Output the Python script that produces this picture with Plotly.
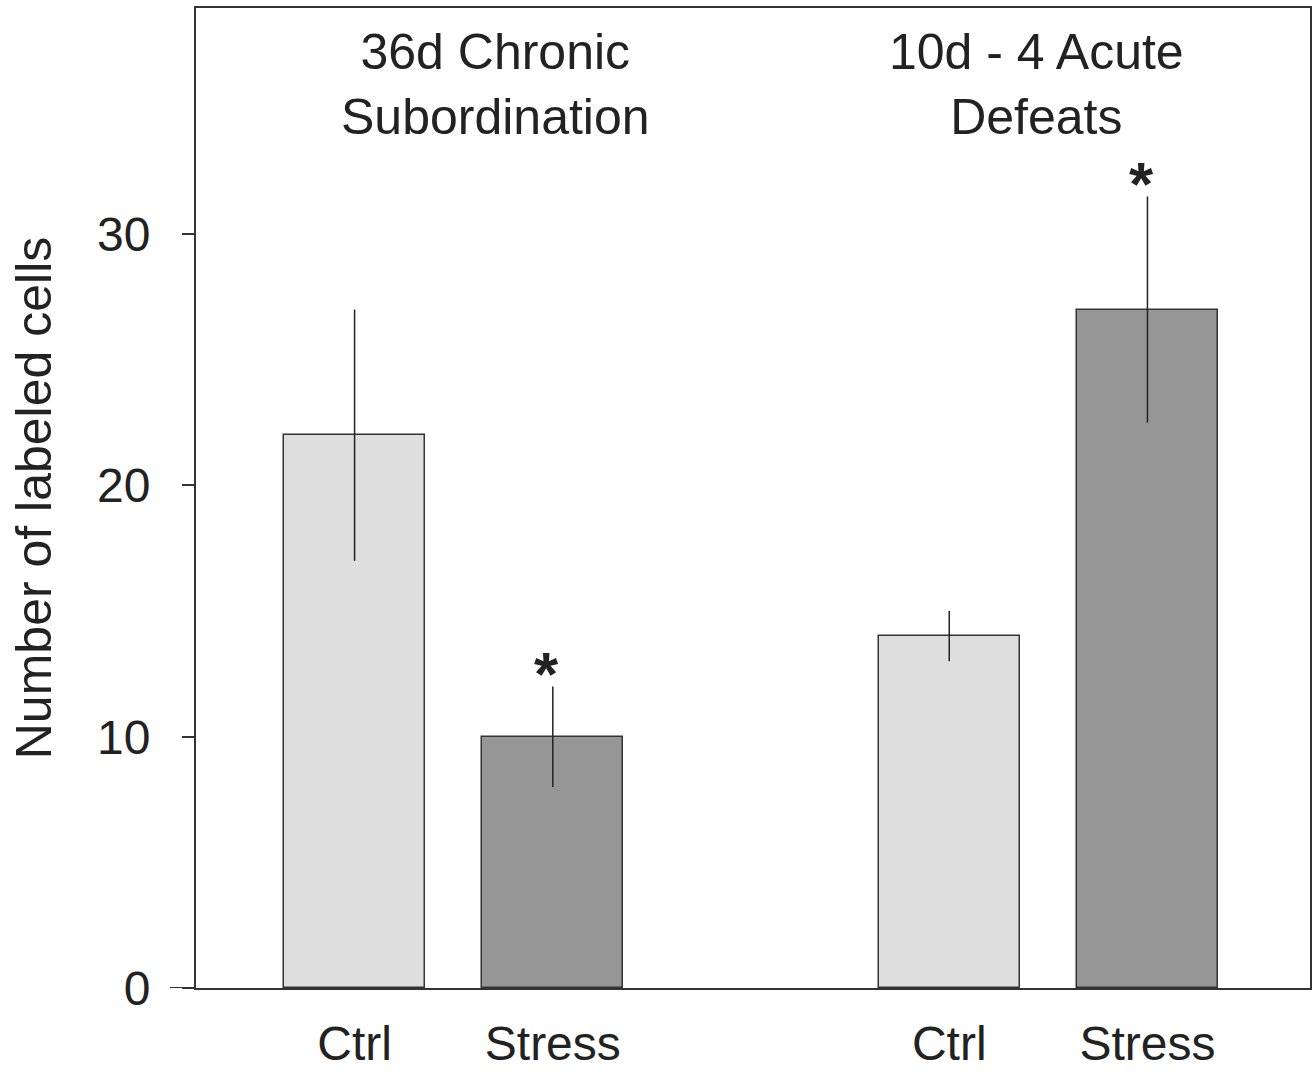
import plotly.graph_objects as go

# Group positions on the x axis and their labels
positions = [1, 2, 4, 5]
labels = ["Ctrl", "Stress", "Ctrl", "Stress"]

# Mean number of labeled cells and SEM for each bar
means = [22, 10, 14, 27]
errors = [5, 2, 1, 4.5]
colors = ["#dedede", "#969696", "#dedede", "#969696"]

# Significance markers (bar index)
significant = [1, 3]

# Group titles and their horizontal centres
group_titles = ["36d Chronic<br>Subordination", "10d - 4 Acute<br>Defeats"]
group_centres = [1.71, 4.44]

FONT = "Liberation Sans, Arial, sans-serif"
INK = "#222222"
LINE = "#333333"

fig = go.Figure()
fig.add_trace(go.Bar(
    x=positions,
    y=means,
    width=0.71,
    marker=dict(color=colors, line=dict(color=LINE, width=1.5)),
    error_y=dict(type="data", array=errors, visible=True,
                 color=INK, thickness=1.5, width=0),
    showlegend=False,
))

annotations = []
for i in significant:
    annotations.append(dict(
        x=positions[i] - 0.03, y=means[i] + errors[i],
        xref="x", yref="y", text="<b>*</b>", showarrow=False,
        yanchor="bottom", yshift=-24,
        font=dict(family=FONT, size=62, color=INK),
    ))
for t, cx in zip(group_titles, group_centres):
    annotations.append(dict(
        x=cx, y=1, xref="x", yref="paper", text=t, showarrow=False,
        yanchor="top", yshift=-14,
        font=dict(family=FONT, size=50, color=INK),
    ))

# Short extension of the baseline to the left of the y axis
shapes = [dict(type="line", xref="paper", yref="y", x0=-26 / 1114, x1=0,
               y0=0, y1=0, line=dict(color=LINE, width=2))]

fig.update_layout(
    width=1315, height=1071,
    margin=dict(l=196, r=5, t=8, b=83),
    plot_bgcolor="white", paper_bgcolor="white",
    font=dict(family=FONT, color=INK),
    bargap=0,
    annotations=annotations,
    shapes=shapes,
    xaxis=dict(
        range=[0.2, 5.82],
        tickvals=positions, ticktext=labels,
        ticks="", showgrid=False, zeroline=False,
        showline=True, linecolor=LINE, linewidth=2, mirror=True,
        tickfont=dict(family=FONT, size=48, color=INK),
        ticklabelstandoff=12,
        automargin=False,
    ),
    yaxis=dict(
        range=[0, 39],
        tickvals=[0, 10, 20, 30],
        ticks="outside", ticklen=12, tickwidth=2, tickcolor=LINE,
        showgrid=False, zeroline=False,
        showline=True, linecolor=LINE, linewidth=2, mirror=True,
        tickfont=dict(family=FONT, size=48, color=INK),
        ticklabelstandoff=22,
        automargin=False,
        title=dict(text="Number of labeled cells",
                   font=dict(family=FONT, size=50, color=INK),
                   standoff=30),
    ),
)

fig.write_html("out.html")
